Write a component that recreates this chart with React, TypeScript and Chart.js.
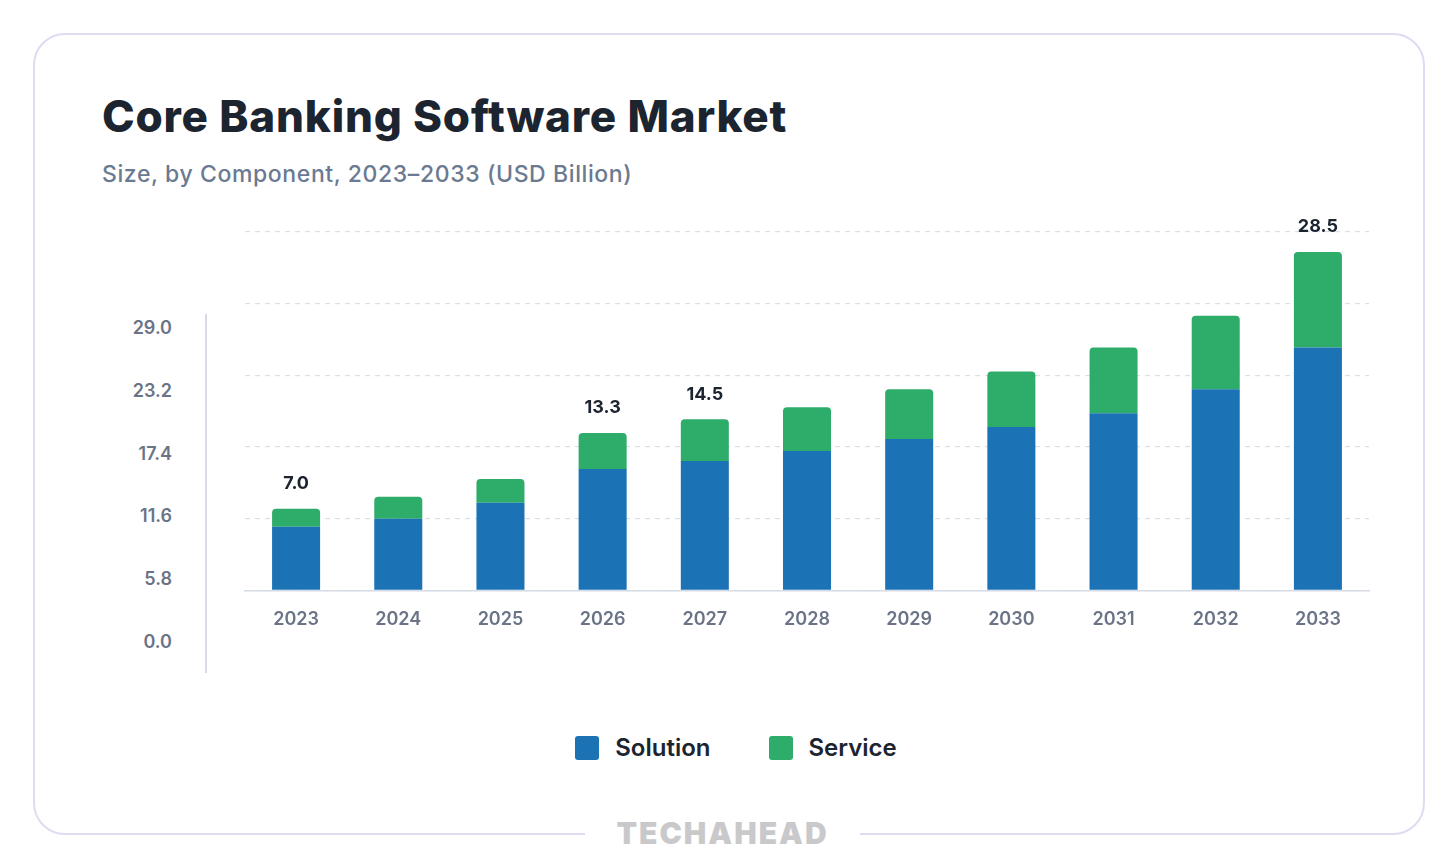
import { useEffect, useRef } from "react";
import { Chart, registerables, type Plugin } from "chart.js";

Chart.register(...registerables);

const years = ["2023", "2024", "2025", "2026", "2027", "2028", "2029", "2030", "2031", "2032", "2033"];
const solution = [5.33, 6.0, 7.33, 10.17, 10.83, 11.67, 12.67, 13.67, 14.83, 16.83, 20.33];
const service = [1.5, 1.83, 2.0, 3.0, 3.5, 3.66, 4.16, 4.66, 5.5, 6.17, 8.0];
const totalLabels = ["7.0", "", "", "13.3", "14.5", "", "", "", "", "", "28.5"];
const leftTicks = ["29.0", "23.2", "17.4", "11.6", "5.8", "0.0"];

const FONT = "Inter, 'Noto Sans', sans-serif";

const topLabels: Plugin<"bar"> = {
  id: "topLabels",
  afterDatasetsDraw(chart) {
    const ctx = chart.ctx;
    const meta = chart.getDatasetMeta(1);
    ctx.save();
    ctx.font = `700 18px ${FONT}`;
    ctx.fillStyle = "#1c2430";
    ctx.textAlign = "center";
    ctx.textBaseline = "bottom";
    meta.data.forEach((bar, i) => {
      if (!totalLabels[i]) return;
      ctx.fillText(totalLabels[i], bar.x, bar.y - 16);
    });
    ctx.restore();
  }
};

export default function App() {
  const canvasRef = useRef<HTMLCanvasElement | null>(null);

  useEffect(() => {
    document.body.style.margin = "0";
    const canvas = canvasRef.current;
    if (!canvas) return;
    const chart = new Chart(canvas, {
      type: "bar",
      data: {
        labels: years,
        datasets: [
          { label: "Solution", data: solution, backgroundColor: "#1b72b5", barPercentage: 0.47, categoryPercentage: 1 },
          { label: "Service", data: service, backgroundColor: "#2eac6a", barPercentage: 0.47, categoryPercentage: 1, borderRadius: { topLeft: 4, topRight: 4 }, borderSkipped: "bottom" }
        ]
      },
      options: {
        animation: false,
        responsive: false,
        layout: { padding: { left: 245, right: 87, top: 32, bottom: 0 } },
        plugins: { legend: { display: false }, tooltip: { enabled: false } },
        scales: {
          x: {
            stacked: true,
            grid: { display: false },
            border: { color: "#d6dbe6", width: 1.5 },
            ticks: { color: "#6b7487", font: { family: FONT, size: 18, weight: 600 }, padding: 10 }
          },
          y: {
            stacked: true,
            min: 0,
            max: 30,
            ticks: { stepSize: 6, display: false },
            border: { display: false, dash: [5, 5] },
            grid: { color: "#dcdfe6", lineWidth: 1.2, tickLength: 0, drawTicks: false }
          }
        }
      } as any,
      plugins: [topLabels]
    });
    return () => chart.destroy();
  }, []);

  return (
    <div style={{ position: "relative", width: 1456, height: 866, background: "#fff", fontFamily: FONT, overflow: "hidden" }}>
      <div style={{ position: "absolute", left: 33, top: 33, width: 1388, height: 798, border: "2px solid #dedbf2", borderRadius: 32 }} />
      <div style={{ position: "absolute", left: 585, top: 815, width: 275, height: 34, background: "#fff", textAlign: "center", font: `900 30px ${FONT}`, color: "#c9c9cc", letterSpacing: 2 }}>TECHAHEAD</div>
      <div style={{ position: "absolute", left: 102, top: 89, font: `800 44px ${FONT}`, color: "#1c2430", letterSpacing: 0.8 }}>Core Banking Software Market</div>
      <div style={{ position: "absolute", left: 102, top: 160, font: `500 23px ${FONT}`, color: "#6b7a90", letterSpacing: 0.6 }}>Size, by Component, 2023–2033 (USD Billion)</div>
      <div style={{ position: "absolute", left: 205, top: 314, width: 1.5, height: 359, background: "#d6dbe6" }} />
      {leftTicks.map((t, i) => (
        <div key={t} style={{ position: "absolute", right: 1456 - 172, top: 317 + i * 62.8, font: `600 18px ${FONT}`, color: "#6b7487" }}>{t}</div>
      ))}
      <canvas ref={canvasRef} width={1456} height={440} style={{ position: "absolute", left: 0, top: 200, width: 1456, height: 440 }} />
      <div style={{ position: "absolute", left: 8, width: 1456, top: 733, display: "flex", justifyContent: "center", gap: 58, font: `600 24px ${FONT}`, color: "#1c2430" }}>
        {[["Solution", "#1b72b5"], ["Service", "#2eac6a"]].map(([l, c]) => (
          <div key={l} style={{ display: "flex", alignItems: "center", gap: 16 }}>
            <span style={{ width: 24, height: 24, background: c, borderRadius: 3, display: "inline-block" }} />{l}
          </div>
        ))}
      </div>
    </div>
  );
}
